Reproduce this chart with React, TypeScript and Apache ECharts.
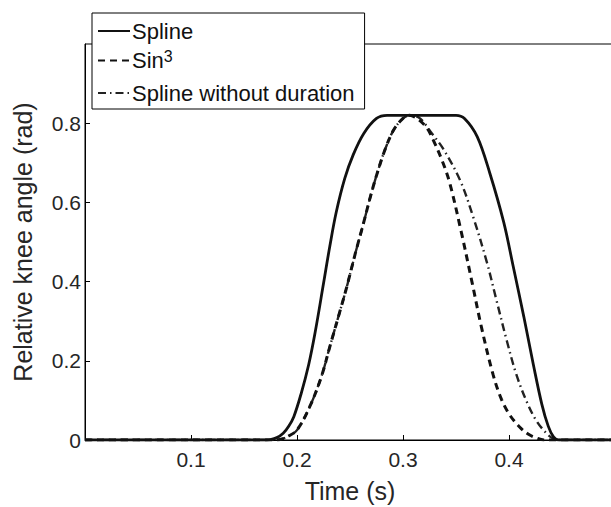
import React, { useEffect, useRef } from "react";
import * as echarts from "echarts";

const xTicks = [0, 0.1, 0.2, 0.3, 0.4, 0.5];
const yTicks = [0, 0.2, 0.4, 0.6, 0.8, 1];

const seriesNames = ["Spline", "Sin3", "Spline without duration"];

// [time (s), relative knee angle (rad)]
const splineData: [number, number][] = [
  [0, 0], [0.17, 0], [0.1745, 0.001], [0.181, 0.006], [0.187, 0.017], [0.192, 0.034],
  [0.197, 0.059], [0.204, 0.118], [0.211, 0.19], [0.217, 0.27], [0.225, 0.395],
  [0.231, 0.49], [0.237, 0.575], [0.245, 0.66], [0.253, 0.72], [0.263, 0.774],
  [0.275, 0.812], [0.285, 0.82], [0.35, 0.82], [0.358, 0.812], [0.37, 0.766],
  [0.382, 0.673], [0.395, 0.55], [0.404, 0.438], [0.414, 0.311], [0.423, 0.19],
  [0.431, 0.09], [0.437, 0.035], [0.442, 0.008], [0.447, 0], [0.5, 0],
];

const sin3Data: [number, number][] = [
  [0, 0], [0.178, 0], [0.185, 0.002], [0.192, 0.01], [0.2, 0.025], [0.212, 0.084],
  [0.223, 0.16], [0.231, 0.236], [0.239, 0.311], [0.247, 0.387], [0.255, 0.471],
  [0.263, 0.55], [0.269, 0.612], [0.275, 0.668], [0.283, 0.733], [0.291, 0.782],
  [0.3, 0.812], [0.306, 0.82], [0.313, 0.812], [0.322, 0.79], [0.329, 0.755],
  [0.337, 0.705], [0.344, 0.65], [0.355, 0.525], [0.365, 0.4], [0.374, 0.285],
  [0.385, 0.165], [0.393, 0.102], [0.401, 0.062], [0.41, 0.033], [0.418, 0.015],
  [0.426, 0.005], [0.433, 0], [0.5, 0],
];

const splineNoDurData: [number, number][] = [
  [0, 0], [0.178, 0], [0.185, 0.002], [0.192, 0.01], [0.2, 0.025], [0.212, 0.084],
  [0.223, 0.16], [0.231, 0.236], [0.239, 0.311], [0.247, 0.387], [0.255, 0.471],
  [0.263, 0.55], [0.269, 0.612], [0.275, 0.668], [0.283, 0.733], [0.291, 0.782],
  [0.3, 0.812], [0.307, 0.82], [0.316, 0.812], [0.327, 0.775], [0.338, 0.735],
  [0.354, 0.655], [0.366, 0.565], [0.379, 0.45], [0.388, 0.355], [0.398, 0.25],
  [0.407, 0.165], [0.417, 0.095], [0.426, 0.048], [0.436, 0.015], [0.442, 0.003],
  [0.446, 0], [0.5, 0],
];

const FONT = "'Liberation Sans', Arial, sans-serif";
const TXT = "#262626";

export default function App() {
  const ref = useRef<HTMLDivElement>(null);
  useEffect(() => {
    if (!ref.current) return;
    const chart = echarts.init(ref.current, undefined, { renderer: "svg" });
    chart.setOption({
      animation: false,
      backgroundColor: "#fff",
      color: ["#111", "#111", "#222"],
      textStyle: { fontFamily: FONT },
      grid: {
        left: 85,
        top: 44,
        width: 530,
        height: 396,
        show: true,
        borderColor: "#000",
        borderWidth: 1,
        containLabel: false,
        outerBoundsMode: "none",
      },
      legend: {
        data: seriesNames,
        orient: "vertical",
        left: 92,
        top: 13,
        backgroundColor: "#fff",
        borderColor: "#000",
        borderWidth: 1,
        borderRadius: 0,
        padding: [7, 10, 5, 5],
        itemGap: 6,
        itemWidth: 32,
        itemHeight: 12,
        selectedMode: false,
        itemStyle: { opacity: 0 },
        formatter: (name: string) => (name === "Sin3" ? "{a|Sin}{s|3}" : "{a|" + name + "}"),
        textStyle: {
          fontFamily: FONT,
          color: "#111",
          padding: [0, 0, 0, -3],
          rich: {
            a: { fontSize: 22, fontFamily: FONT, color: "#111", lineHeight: 25 },
            s: { fontSize: 16, fontFamily: FONT, color: "#111", lineHeight: 25, verticalAlign: "top", padding: [0, 0, 12, 0] },
          },
        },
      },
      xAxis: {
        type: "value",
        min: xTicks[0],
        max: xTicks[xTicks.length - 1],
        interval: 0.1,
        name: "Time (s)",
        nameLocation: "middle",
        nameGap: 38,
        nameTextStyle: { fontSize: 25, color: TXT, fontFamily: FONT },
        axisLine: { show: true, onZero: false, lineStyle: { color: "#000", width: 1 } },
        axisTick: { show: true, inside: true, length: 5, lineStyle: { color: "#000" } },
        axisLabel: {
          show: true,
          fontSize: 21,
          color: TXT,
          fontFamily: FONT,
          margin: 9,
          showMinLabel: false,
          showMaxLabel: false,
          formatter: (v: number) => String(Math.round(v * 10) / 10),
        },
        splitLine: { show: false },
      },
      yAxis: {
        type: "value",
        min: yTicks[0],
        max: yTicks[yTicks.length - 1],
        interval: 0.2,
        name: "Relative knee angle (rad)",
        nameLocation: "middle",
        nameGap: 50,
        nameTextStyle: { fontSize: 25, color: TXT, fontFamily: FONT },
        axisLine: { show: true, onZero: false, lineStyle: { color: "#000", width: 1 } },
        axisTick: { show: true, inside: true, length: 5, lineStyle: { color: "#000" } },
        axisLabel: {
          show: true,
          fontSize: 21,
          color: TXT,
          fontFamily: FONT,
          margin: 4,
          showMaxLabel: false,
          formatter: (v: number) => String(Math.round(v * 10) / 10),
        },
        splitLine: { show: false },
      },
      series: [
        {
          name: "Spline without duration",
          type: "line",
          data: splineNoDurData,
          symbol: "none",
          smooth: 0.35,
          z: 2,
          itemStyle: { color: "#222" },
          lineStyle: { color: "#222", width: 2.4, type: [8, 4, 1.5, 4] },
        },
        {
          name: "Sin3",
          type: "line",
          data: sin3Data,
          symbol: "none",
          smooth: 0.35,
          z: 3,
          itemStyle: { color: "#111" },
          lineStyle: { color: "#111", width: 3, type: [7, 5] },
        },
        {
          name: "Spline",
          type: "line",
          data: splineData,
          symbol: "none",
          smooth: 0.35,
          z: 4,
          itemStyle: { color: "#111" },
          lineStyle: { color: "#111", width: 2.8, type: "solid" },
        },
      ],
    });
    return () => chart.dispose();
  }, []);
  return (
    <div
      ref={ref}
      style={{ position: "fixed", left: 0, top: 0, width: 611, height: 507, background: "#fff" }}
    />
  );
}
